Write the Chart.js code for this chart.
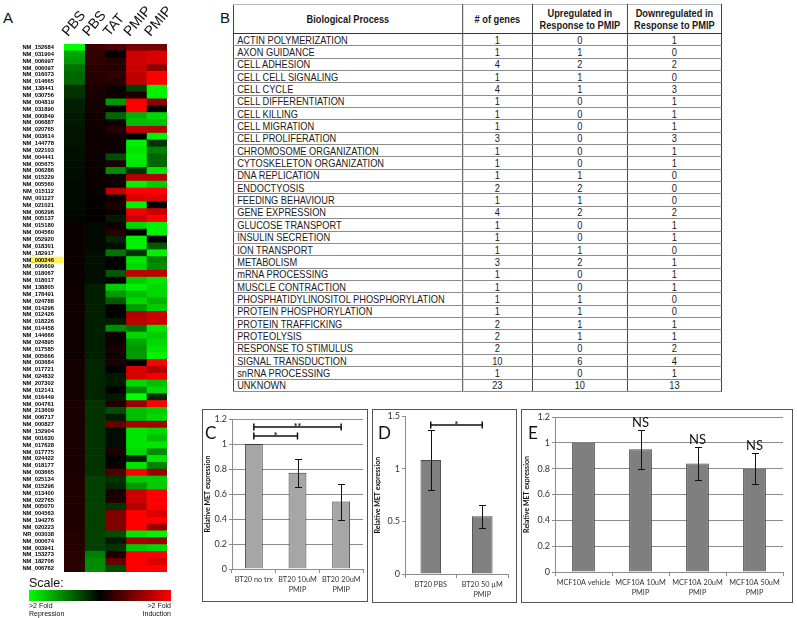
<!DOCTYPE html>
<html>
<head>
<meta charset="utf-8">
<script src="https://cdn.jsdelivr.net/npm/chart.js@4.4.1/dist/chart.umd.min.js"></script>
<style>
  body { margin: 0; background: #fff; width: 797px; height: 618px; position: relative; overflow: hidden; }
  canvas, .abs { position: absolute; }
  .letter { font-family: "Liberation Sans", Arial, sans-serif; font-size: 15px; line-height: 15px; color: #111; }
  .panel-box { border: 1px solid #555; box-sizing: border-box; }
  .plet { font-family: Lato, sans-serif; font-size: 17px; line-height: 17px; color: #111; }
  #scaleTxt { font-family: "Liberation Sans", Arial, sans-serif; font-size: 12.5px; color: #111; }
  #scaleBar { background: linear-gradient(to right, #00ff00, #000 50%, #ff0000); }
  .scaleLbl { font-family: "Liberation Sans", Arial, sans-serif; font-size: 7px; line-height: 8px; color: #111; }
  #tbl { position: absolute; left: 233px; top: 4px; transform-origin: 0 0; transform: scaleX(0.84);
         border-collapse: collapse; table-layout: fixed; width: 581px;
         font-family: "Liberation Sans", Arial, sans-serif; font-size: 11px; color: #1a1a1a; }
  #tbl th, #tbl td { padding: 0 3px; border-left: 1px solid #222; border-right: 1px solid #222; white-space: nowrap; overflow: hidden; }
  #tbl th { height: 28px; line-height: 12px; font-weight: bold; border-bottom: 1px solid #333; border-top: 1px solid #bbb; text-align: center; }
  #tbl td { height: 11.35px; line-height: 10px; border-bottom: 1.5px solid #8c8c8c; text-align: center; }
  #tbl td.proc { text-align: left; padding-left: 4px; }
</style>
</head>
<body>
<div class="abs letter" style="left:3px; top:10px;">A</div>
<canvas id="heatChart" width="180" height="580" style="left:0; top:0;"></canvas>
<div class="abs" id="scaleTxt" style="left:29px; top:576px;">Scale:</div>
<div class="abs" id="scaleBar" style="left:29px; top:590px; width:142px; height:11px;"></div>
<div class="abs scaleLbl" style="left:29px; top:602px;">&gt;2 Fold<br>Repression</div>
<div class="abs scaleLbl" style="left:111px; top:602px; width:60px; text-align:right;">&gt;2 Fold<br>Induction</div>

<div class="abs letter" style="left:220px; top:10px;">B</div>
<table id="tbl"></table>

<div class="abs panel-box" style="left:202px; top:409px; width:166px; height:193px;"></div>
<canvas id="cChart" width="166" height="193" style="left:202px; top:409px;"></canvas>
<div class="abs plet" style="left:205px; top:424px;">C</div>

<div class="abs panel-box" style="left:372px; top:409px; width:145px; height:194px;"></div>
<canvas id="dChart" width="145" height="194" style="left:372px; top:409px;"></canvas>
<div class="abs plet" style="left:378px; top:424px;">D</div>

<div class="abs panel-box" style="left:521px; top:409px; width:272px; height:194px;"></div>
<canvas id="eChart" width="272" height="194" style="left:521px; top:409px;"></canvas>
<div class="abs plet" style="left:528px; top:424px;">E</div>

<script>
// Heatmap (A): genes and one array per column, -1 = >2 fold repression, 1 = >2 fold induction
const genes = ["NM_152684","NM_031904","NM_006997","NM_006097","NM_016073","NM_014665","NM_138441","NM_030756","NM_004819","NM_031890",
  "NM_000849","NM_006887","NM_020765","NM_003614","NM_144778","NM_022103","NM_004441","NM_005675","NM_006286","NM_015229",
  "NM_005560","NM_015112","NM_001127","NM_021021","NM_006296","NM_005137","NM_015180","NM_004560","NM_052920","NM_018301",
  "NM_182917","NM_000246","NM_006609","NM_018067","NM_018017","NM_138805","NM_178491","NM_024788","NM_014296","NM_012426",
  "NM_018226","NM_014458","NM_144666","NM_024895","NM_017585","NM_005666","NM_003684","NM_017721","NM_024832","NM_207302",
  "NM_012141","NM_016449","NM_004761","NM_213609","NM_006717","NM_000827","NM_152904","NM_001630","NM_017628","NM_017775",
  "NM_024422","NM_018177","NM_003665","NM_025134","NM_015296","NM_013400","NM_022765","NM_005070","NM_004563","NM_194276",
  "NM_020223","NR_003038","NM_000674","NM_003941","NM_153273","NM_182706","NM_006762"];
const highlightGene = "NM_000246";
const columnNames = ["PBS", "PBS", "TAT", "PMIP", "PMIP"];

const pbs1 = [-1.0,-0.65,-0.6,-0.45,-0.4,-0.4,-0.2,-0.2,-0.12,-0.12,-0.1,-0.1,-0.08,-0.08,-0.08,-0.06,-0.06,-0.05,-0.05,-0.05,
  -0.04,-0.04,-0.04,-0.03,-0.03,-0.02,0.04,0.04,0.04,0.04,0.04,0.04,0.04,0.04,0.04,0.06,0.06,0.06,0.06,0.06,
  0.06,0.06,0.06,0.06,0.06,0.06,0.08,0.08,0.08,0.08,0.08,0.08,0.1,0.1,0.1,0.1,0.1,0.1,0.1,0.1,
  0.1,0.1,0.1,0.12,0.12,0.12,0.12,0.12,0.12,0.12,0.12,0.14,0.14,0.14,0.16,0.16,0.16];
const pbs2 = [0.22,0.2,0.2,0.16,0.14,0.14,0.1,0.1,0.08,0.08,0.06,0.06,0.06,0.06,0.06,0.06,0.04,0.04,0.04,0.04,
  0.04,0.04,0.02,0.02,0.02,0.02,-0.03,-0.03,-0.03,-0.03,-0.06,-0.06,-0.06,-0.06,-0.06,-0.12,-0.12,-0.12,-0.12,-0.12,
  -0.12,-0.12,-0.12,-0.12,-0.12,-0.12,-0.15,-0.15,-0.15,-0.15,-0.15,-0.15,-0.2,-0.2,-0.2,-0.2,-0.2,-0.2,-0.2,-0.2,
  -0.2,-0.2,-0.2,-0.25,-0.25,-0.25,-0.25,-0.25,-0.25,-0.25,-0.25,-0.25,-0.25,-0.25,-0.5,-0.55,-0.55];
const tat = [0.3,0,0.15,0.15,0.2,0.15,0.05,0.05,-0.6,0.02,-0.4,0.05,0.15,0.05,0.05,0.05,-0.3,0.1,-0.55,0.05,
  0.05,0.75,0.05,0.1,0.05,-0.1,0.05,0.15,-0.15,-0.05,-0.45,0,0,-0.35,0,-0.8,-0.6,-0.35,0,0,
  -0.1,-0.55,0.05,0.05,0.1,0.05,0.1,0,-0.1,-0.1,0,-0.1,0.1,-0.3,-0.1,0.4,-0.05,-0.05,-0.05,0.1,
  0,0.05,0.3,-0.2,-0.15,0.1,0.1,-0.2,0.5,0.5,0.5,-0.3,-0.1,-0.2,0.1,0.4,-0.3];
const pmip1 = [0.45,0.8,0.8,0.8,0.75,0.75,-0.25,0.1,1.0,1.0,-0.7,-0.75,0.75,0,-0.95,-0.9,-0.95,-0.9,-0.2,0.7,
  -0.95,1.0,0.85,-0.95,0.95,0.8,-0.85,0,-0.95,-0.95,-0.2,-0.9,-0.85,0.75,-0.8,-0.95,-0.75,-0.85,-0.6,0.7,
  0.75,-0.45,-0.85,-0.65,-0.6,-0.6,0,0.85,0.85,-0.85,-0.55,-1.0,0.6,-0.75,-0.75,0.65,-0.9,-0.9,-0.9,-0.85,
  -0.15,-0.9,1.0,-0.8,-0.6,0.8,0.8,0.7,1.0,1.0,1.0,-0.9,0.65,-0.8,1.0,1.0,1.0];
const pmip2 = [0.45,0.85,0.85,0.55,1.0,1.0,-0.95,-0.95,0.55,0,-0.85,-0.75,0.7,-0.95,-0.2,-0.5,-0.4,-0.4,-0.9,0.7,
  -0.8,1.0,0.85,0,0.8,1.0,-0.95,-0.95,0,-0.35,-0.95,-0.5,-0.55,0.75,-0.9,-0.85,-0.85,-0.7,-0.8,0.8,
  0.8,-0.9,-0.8,-0.85,-0.9,-0.95,1.0,0.7,0.95,-0.75,-0.85,-0.15,1.0,-0.8,-0.85,0.65,-0.85,-0.75,-0.9,-0.55,
  -0.9,-0.5,0.6,-0.8,-0.8,1.0,1.0,1.0,0.85,1.0,0.6,-0.95,0.6,-0.85,1.0,0.85,1.0];

// Tabela (B)
const processes = ["ACTIN POLYMERIZATION","AXON GUIDANCE","CELL ADHESION","CELL CELL SIGNALING","CELL CYCLE","CELL DIFFERENTIATION",
  "CELL KILLING","CELL MIGRATION","CELL PROLIFERATION","CHROMOSOME ORGANIZATION","CYTOSKELETON ORGANIZATION","DNA REPLICATION",
  "ENDOCTYOSIS","FEEDING BEHAVIOUR","GENE EXPRESSION","GLUCOSE TRANSPORT","INSULIN SECRETION","ION TRANSPORT","METABOLISM",
  "mRNA PROCESSING","MUSCLE CONTRACTION","PHOSPHATIDYLINOSITOL PHOSPHORYLATION","PROTEIN PHOSPHORYLATION","PROTEIN TRAFFICKING",
  "PROTEOLYSIS","RESPONSE TO STIMULUS","SIGNAL TRANSDUCTION","snRNA PROCESSING","UNKNOWN"];
const numGenes = [1,1,4,1,4,1,1,1,3,1,1,1,2,1,4,1,1,1,3,1,1,1,1,2,2,2,10,1,23];
const upregulated = [0,1,2,1,1,0,0,0,0,0,0,1,2,1,2,0,0,1,2,0,0,1,1,1,1,0,6,0,10];
const downregulated = [1,0,2,0,3,1,1,1,3,1,1,0,0,0,2,1,1,0,1,1,1,0,0,1,1,2,4,1,13];
const tableHeaders = ["Biological Process", "# of genes", "Upregulated in<br>Response to PMIP", "Downregulated in<br>Response to PMIP"];

// Barras (C, D, E)
const cLabels = ["BT20 no trx", ["BT20 10uM", "PMIP"], ["BT20 20uM", "PMIP"]];
const cValues = [1.0, 0.77, 0.54];
const cErrLow = [null, 0.66, 0.39];
const cErrHigh = [null, 0.88, 0.68];
const cBrackets = [{ from: 0, to: 2, level: 1.136, mark: "**" }, { from: 0, to: 1, level: 1.064, mark: "*" }];

const dLabels = ["BT20 PBS", ["BT20 50 µM", "PMIP"]];
const dValues = [1.085, 0.55];
const dErrLow = [0.80, 0.44];
const dErrHigh = [1.37, 0.66];
const dBrackets = [{ from: 0, to: 1, level: 1.415, mark: "*" }];

const eLabels = ["MCF10A vehicle", ["MCF10A 10uM", "PMIP"], ["MCF10A 20uM", "PMIP"], ["MCF10A 50uM", "PMIP"]];
const eValues = [1.0, 0.95, 0.84, 0.80];
const eErrLow = [null, 0.80, 0.71, 0.68];
const eErrHigh = [null, 1.10, 0.97, 0.92];
const eNotes = [null, "NS", "NS", "NS"];

const yTitle = "Relative MET expression";

// ---------- tabela ----------
let html = "<colgroup><col style='width:272.6px'><col style='width:83.3px'><col style='width:113.1px'><col style='width:112px'></colgroup>";
html += "<tr>" + tableHeaders.map((h) => "<th>" + h + "</th>").join("") + "</tr>";
processes.forEach((p, i) => {
  html += "<tr><td class='proc'>" + p + "</td><td>" + numGenes[i] + "</td><td>" + upregulated[i] + "</td><td>" + downregulated[i] + "</td></tr>";
});
document.getElementById("tbl").innerHTML = html;

// ---------- heatmap ----------
function heatColor(v) {
  const k = Math.round(Math.min(1, Math.abs(v)) * 255);
  return v < 0 ? "rgb(0," + k + ",0)" : "rgb(" + k + ",0,0)";
}
const heatColumns = [pbs1, pbs2, tat, pmip1, pmip2];
const geneFont = "bold 5.8px 'Liberation Sans', Arial";

const heatDecor = {
  id: "heatDecor",
  beforeDraw(chart) {
    // fundo amarelo do gene destacado
    const ctx = chart.ctx, y = chart.scales.y;
    const idx = genes.indexOf(highlightGene);
    ctx.save();
    ctx.font = geneFont;
    const w = ctx.measureText(highlightGene).width;
    const py = y.getPixelForValue(idx);
    ctx.fillStyle = "#fff25a";
    ctx.fillRect(y.right - 2 - w - 1.5, py - 3.4, w + 3, 6.8);
    ctx.restore();
  },
  afterDraw(chart) {
    // nomes das colunas, girados
    const ctx = chart.ctx, x = chart.scales.x, top = chart.chartArea.top;
    ctx.save();
    ctx.font = "14px 'Liberation Sans', Arial";
    ctx.fillStyle = "#111";
    ctx.textBaseline = "alphabetic";
    columnNames.forEach((name, c) => {
      ctx.save();
      ctx.translate(x.getPixelForValue(c) + 4, top - 7);
      ctx.rotate(-50 * Math.PI / 180);
      ctx.fillText(name, 0, 0);
      ctx.restore();
    });
    ctx.restore();
  },
};

new Chart(document.getElementById("heatChart"), {
  type: "bar",
  data: {
    labels: genes,
    datasets: heatColumns.map((col, c) => ({
      label: columnNames[c],
      data: genes.map(() => [c, c + 1]),
      backgroundColor: col.map(heatColor),
      borderWidth: 0,
      barPercentage: 1,
      categoryPercentage: 1,
      grouped: false,
    })),
  },
  options: {
    indexAxis: "y",
    responsive: false,
    animation: false,
    events: [],
    layout: { padding: { top: 44, bottom: 8, left: 0, right: 13 } },
    plugins: { legend: { display: false }, tooltip: { enabled: false } },
    scales: {
      x: { type: "linear", min: 0, max: 5, display: false },
      y: {
        grid: { display: false },
        border: { display: false },
        ticks: { autoSkip: false, padding: 2, color: "#000", font: { size: 5.8, weight: "bold", family: "'Liberation Sans', Arial" } },
        afterFit(s) { s.width = 64; },
      },
    },
  },
  plugins: [heatDecor],
});

// ---------- graficos de barras ----------
function barExtras(errLow, errHigh, brackets, notes) {
  return {
    id: "barExtras",
    afterDatasetsDraw(chart) {
      const ctx = chart.ctx, x = chart.scales.x, y = chart.scales.y;
      ctx.save();
      ctx.strokeStyle = "#111";
      ctx.fillStyle = "#111";
      ctx.lineWidth = 1;
      errHigh.forEach((hi, i) => {
        if (hi == null) return;
        const px = Math.round(x.getPixelForValue(i)) + 0.5;
        const top = Math.round(y.getPixelForValue(hi)) + 0.5;
        const bot = Math.round(y.getPixelForValue(errLow[i])) + 0.5;
        ctx.beginPath();
        ctx.moveTo(px, top); ctx.lineTo(px, bot);
        ctx.moveTo(px - 3.5, top); ctx.lineTo(px + 3.5, top);
        ctx.moveTo(px - 3.5, bot); ctx.lineTo(px + 3.5, bot);
        ctx.stroke();
      });
      ctx.lineWidth = 1.5;
      (brackets || []).forEach((b) => {
        const x1 = x.getPixelForValue(b.from), x2 = x.getPixelForValue(b.to);
        const py = Math.round(y.getPixelForValue(b.level));
        ctx.beginPath();
        ctx.moveTo(x1, py); ctx.lineTo(x2, py);
        ctx.moveTo(x1, py - 3.5); ctx.lineTo(x1, py + 3.5);
        ctx.moveTo(x2, py - 3.5); ctx.lineTo(x2, py + 3.5);
        ctx.stroke();
        ctx.font = "bold 9px Lato";
        ctx.textAlign = "center";
        ctx.textBaseline = "alphabetic";
        ctx.fillText(b.mark, (x1 + x2) / 2, py + 3);
      });
      (notes || []).forEach((n, i) => {
        if (!n) return;
        ctx.font = "13px Lato";
        ctx.textAlign = "center";
        ctx.textBaseline = "alphabetic";
        ctx.fillText(n, x.getPixelForValue(i), y.getPixelForValue(errHigh[i]) - 3);
      });
      ctx.restore();
    },
  };
}

function makeBarChart(id, labels, values, cfg) {
  return new Chart(document.getElementById(id), {
    type: "bar",
    data: {
      labels: labels,
      datasets: [{
        data: values,
        backgroundColor: cfg.fill,
        borderColor: cfg.edge,
        borderWidth: 1,
        borderSkipped: "bottom",
        barPercentage: cfg.barPct,
        categoryPercentage: 1,
      }],
    },
    options: {
      responsive: false,
      animation: false,
      events: [],
      layout: { padding: { top: cfg.padTop, right: cfg.padRight, left: 0, bottom: 0 } },
      plugins: { legend: { display: false }, tooltip: { enabled: false } },
      scales: {
        x: {
          grid: { offset: true, drawOnChartArea: false, tickLength: 4, color: "#8c8c8c" },
          border: { color: "#8c8c8c" },
          ticks: { autoSkip: false, maxRotation: 0, padding: 2, color: "#333", font: { size: 7.3, family: "Lato", lineHeight: 1.35 } },
          afterFit(s) { s.height = cfg.xHeight; },
        },
        y: {
          min: 0,
          max: cfg.yMax,
          ticks: {
            stepSize: cfg.yStep,
            padding: 2,
            color: "#333",
            font: { size: 9, family: "Lato" },
            // estilo Excel: "1" em vez de "1.0"
            callback: (v) => String(Number(v.toFixed(2))),
          },
          grid: { drawOnChartArea: cfg.gridOn, tickLength: 3, color: "#8c8c8c" },
          border: { color: "#8c8c8c" },
          title: { display: true, text: yTitle, color: "#111", padding: { top: 2, bottom: 0 }, font: { size: 7, weight: "bold", family: "Lato" } },
          afterFit(s) { s.width = cfg.yWidth; },
        },
      },
    },
    plugins: [barExtras(cfg.errLow, cfg.errHigh, cfg.brackets, cfg.notes)],
  });
}

makeBarChart("cChart", cLabels, cValues, {
  fill: "#a6a6a6", edge: "#3c3c3c", barPct: 0.41, padTop: 10, padRight: 5, xHeight: 33, yWidth: 30,
  yMax: 1.2, yStep: 0.2, gridOn: true, errLow: cErrLow, errHigh: cErrHigh, brackets: cBrackets,
});
makeBarChart("dChart", dLabels, dValues, {
  fill: "#808080", edge: "#4a4a4a", barPct: 0.4, padTop: 6, padRight: 9, xHeight: 29, yWidth: 33,
  yMax: 1.5, yStep: 0.5, gridOn: false, errLow: dErrLow, errHigh: dErrHigh, brackets: dBrackets,
});
makeBarChart("eChart", eLabels, eValues, {
  fill: "#7f7f7f", edge: "#4a4a4a", barPct: 0.4, padTop: 8, padRight: 10, xHeight: 31, yWidth: 34,
  yMax: 1.2, yStep: 0.2, gridOn: true, errLow: eErrLow, errHigh: eErrHigh, notes: eNotes,
});
</script>
</body>
</html>
